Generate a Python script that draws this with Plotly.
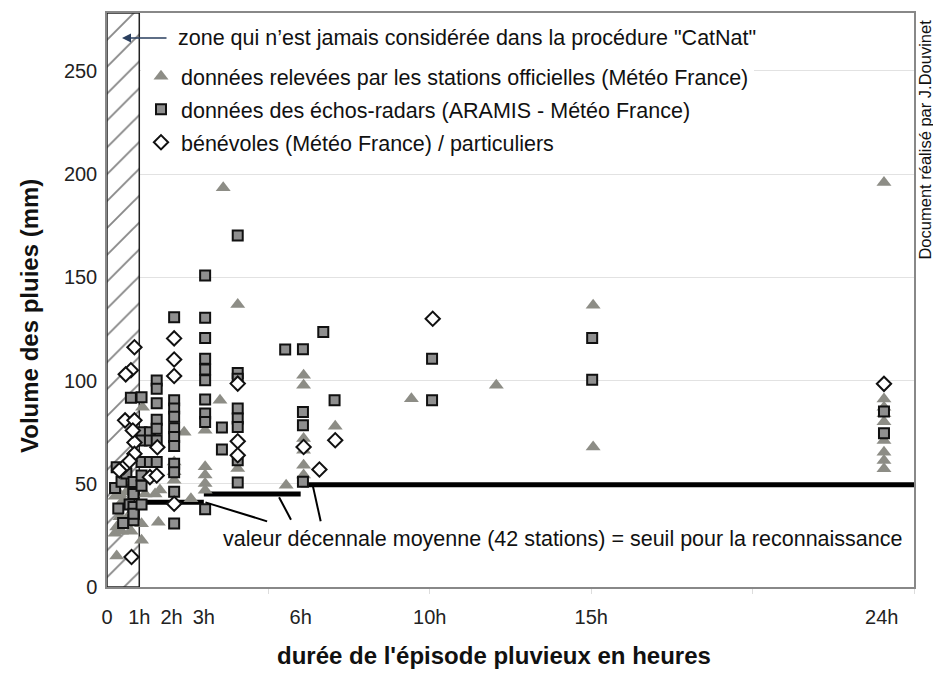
import plotly.graph_objects as go

# ---------------- data ----------------
# stations officielles (triangles)
tri_x = [0.3, 0.25, 0.45, 0.75, 0.3, 0.4, 0.65, 0.55, 0.5, 0.25, 0.6, 0.4, 0.8, 0.55,
         1.1, 1.07, 1.07, 1.18, 1.49, 1.64, 1.59,
         2.08, 2.08, 2.08, 2.39, 2.6,
         3.04, 3.04, 3.04, 3.04, 3.04, 3.5, 3.6,
         4.05, 4.05, 5.55,
         6.09, 6.09, 6.09, 6.09, 6.09, 6.09, 7.07,
         9.43, 12.06, 15.06, 15.06,
         24.07, 24.07, 24.07, 24.07, 24.07, 24.07, 24.07, 24.07, 24.07]
tri_y = [15, 26, 27, 27, 29, 34, 34, 39, 42, 44, 46, 45, 44, 50,
         87, 30.6, 22.6, 45, 45, 47, 31.4,
         60.6, 55.8, 51.7, 75, 42.8,
         75.9, 58.2, 54.2, 50.1, 46.9, 90.4, 193.4,
         136.8, 57.4, 49.3,
         102.5, 97.7, 71.9, 66.2, 59, 54.2, 77.9,
         91.2, 97.7, 136.4, 67.8,
         195.9, 91, 87, 83.9, 80, 71, 65.3, 61.3, 57.3]

# échos-radars (carrés)
sq_x = [0.25, 0.45, 0.6, 0.35, 0.7, 0.82, 0.82, 0.82, 0.82, 0.82, 0.82, 0.5, 0.74, 0.3,
        1.07, 1.07, 1.07, 1.07, 1.07, 1.07, 1.07,
        1.33, 1.33, 1.33,
        1.54, 1.54, 1.54, 1.54, 1.54, 1.54, 1.54,
        2.08, 2.08, 2.08, 2.08, 2.08, 2.08, 2.08, 2.08, 2.08, 2.08, 2.08,
        3.04, 3.04, 3.04, 3.04, 3.04, 3.04, 3.04, 3.04, 3.04, 3.04,
        3.56, 3.56,
        4.05, 4.05, 4.05, 4.05, 4.05, 4.05, 4.05, 4.05,
        5.52, 6.07, 6.07, 6.07, 6.07, 6.7, 7.05,
        10.07, 10.07, 15.03, 15.03, 24.07, 24.07]
sq_y = [48, 51, 55, 38, 40, 46.8, 38.7, 32.3, 35.5, 50.8, 45.1, 31, 91.6, 58,
        91.9, 75, 71, 60.5, 54, 49, 40,
        75, 71, 60.5,
        100, 96, 89, 81, 76.6, 71, 60.5,
        130.7, 90.4, 86.4, 82.4, 76.9, 72.7, 68.3, 59.7, 55.6, 46.1, 30.8,
        150.9, 130.4, 120.6, 110.6, 105.4, 100.1, 90.8, 84, 79.9, 37.7,
        77.2, 66.6,
        170.2, 103.6, 100.9, 86.4, 81.6, 77.5, 61.4, 50.6,
        115, 115.1, 84.8, 78.3, 51, 123.5, 90.4,
        110.6, 90.4, 120.6, 100.4, 85, 74.5]

# bénévoles / particuliers (losanges)
di_x = [0.85, 0.74, 0.58, 0.56, 0.85, 0.85, 0.85, 0.51, 0.38, 0.76, 0.8, 0.7,
        1.33, 1.54, 1.56,
        2.08, 2.08, 2.08, 2.08,
        4.05, 4.05, 4.05,
        6.09, 6.58, 7.07, 10.09, 24.07]
di_y = [116.1, 105, 103, 80.7, 80.7, 70, 64.5, 58, 56.5, 14.5, 75.8, 61,
        53.2, 54, 67.7,
        120.4, 110.2, 102.2, 40.3,
        98.5, 70.6, 63.8,
        67.8, 56.9, 71.1, 129.9, 98.4]

# seuil (valeur décennale moyenne)
seuil_debut = [1, 3, 6]
seuil_fin = [3, 6, 25]
seuil_val = [41, 45, 49.5]

tick_vals = [0, 1, 2, 3, 6, 10, 15, 24]
tick_text = ["0", "1h", "2h", "3h", "6h", "10h", "15h", "24h"]

FONT = "Liberation Sans, Arial, sans-serif"
YMAX = 278
XMAX = 25

# pixel geometry (body margin removed via post_script)
W, H = 933, 678
PL, PR, PT, PB = 107, 914, 11, 587          # plot box in pixels
L, R, T, B = PL, W - PR, PT, H - PB
pw, ph = PR - PL, PB - PT


def px(x):
    return (x - PL) / pw


def py(y):
    return (PB - y) / ph


fig = go.Figure()

# hatched zone (0 - 1h)
fig.add_trace(go.Scatter(
    x=[0, 1, 1, 0, 0], y=[0, 0, YMAX, YMAX, 0], mode="lines", fill="toself",
    fillcolor="white",
    fillpattern=dict(shape="/", size=19, solidity=0.1, fgcolor="#111", bgcolor="white"),
    line=dict(color="#222", width=1.5), showlegend=False, hoverinfo="skip"))

# threshold steps
sx, sy = [], []
for a, b, v in zip(seuil_debut, seuil_fin, seuil_val):
    sx += [a, b, None]
    sy += [v, v, None]
fig.add_trace(go.Scatter(x=sx, y=sy, mode="lines", line=dict(color="black", width=5),
                         showlegend=False, hoverinfo="skip"))

fig.add_trace(go.Scatter(
    x=tri_x, y=tri_y, mode="markers",
    name="données relevées par les stations officielles (Météo France)",
    marker=dict(symbol="triangle-up", size=13, color="#8d8d86", line=dict(width=0))))
fig.add_trace(go.Scatter(
    x=sq_x, y=sq_y, mode="markers",
    name="données des échos-radars (ARAMIS - Météo France)",
    marker=dict(symbol="square", size=10, color="#8f8f8f", line=dict(width=2, color="#111"))))
fig.add_trace(go.Scatter(
    x=di_x, y=di_y, mode="markers",
    name="bénévoles (Météo France) / particuliers",
    marker=dict(symbol="diamond", size=11, color="white", line=dict(width=2, color="#111"))))

# leader lines for threshold annotation
for (x0, y0, x1, y1) in [(3.05, 41, 4.96, 31.8), (5.33, 43.5, 5.7, 32.6), (6.36, 50.2, 6.62, 31.8)]:
    fig.add_shape(type="line", x0=x0, y0=y0, x1=x1, y1=y1, xref="x", yref="y",
                  line=dict(color="black", width=2))

# small square glyph after "particuliers"
fig.add_shape(type="rect", xref="paper", yref="paper",
              x0=px(565), x1=px(573), y0=py(136), y1=py(128),
              fillcolor="#8f8f8f", line=dict(color="#111", width=1.5))

annotations = [
    dict(x=px(176), y=py(36), xanchor="left", yanchor="middle",
         text="zone qui n’est jamais considérée dans la procédure \"CatNat\"",
         showarrow=False, font=dict(size=21.5, color="#111"), bgcolor="white"),
    dict(x=px(122), y=py(36), ax=46, ay=0,
         showarrow=True, arrowhead=2, arrowsize=1.2, arrowwidth=1.5, text=""),
    dict(x=px(562), y=py(539), xanchor="center", yanchor="middle",
         text="valeur décennale moyenne (42 stations) = seuil pour la reconnaissance",
         showarrow=False, font=dict(size=21.5, color="#111")),
    dict(x=px(30), y=py(315), text="<b>Volume des pluies (mm)</b>", textangle=-90, showarrow=False,
         xanchor="center", yanchor="middle", font=dict(size=24, color="#111")),
    dict(x=px(494), y=py(656), text="<b>durée de l'épisode pluvieux en heures</b>", showarrow=False,
         xanchor="center", yanchor="middle", font=dict(size=24, color="#111")),
    dict(x=px(925), y=py(138), text="Document réalisé par J.Douvinet", textangle=-90, showarrow=False,
         xanchor="center", yanchor="middle", font=dict(size=16.5, color="#111")),
]
for a in annotations:
    a.setdefault("xref", "paper")
    a.setdefault("yref", "paper")

fig.update_layout(
    width=W, height=H,
    margin=dict(l=L, r=R, t=T, b=B),
    paper_bgcolor="white", plot_bgcolor="white",
    font=dict(family=FONT, size=20, color="#222"),
    annotations=annotations,
    legend=dict(x=px(141), y=py(54), xanchor="left", yanchor="top",
                font=dict(size=21.5, color="#111"), bgcolor="white",
                tracegroupgap=2, itemwidth=30),
    xaxis=dict(range=[0, XMAX], tickvals=tick_vals, ticktext=tick_text, showgrid=False,
               zeroline=False, showline=True, linecolor="#888", linewidth=1.5, mirror=True,
               ticks="", ticklabelstandoff=11, tickfont=dict(size=20, color="#222"),
               minor=dict(tickvals=[5, 10, 15, 20, 25], ticks="outside", ticklen=5,
                          tickcolor="#ddd", showgrid=False)),
    yaxis=dict(range=[0, YMAX], tickvals=[0, 50, 100, 150, 200, 250], showgrid=True,
               gridcolor="#e2e2e2", gridwidth=1, zeroline=False, showline=True,
               linecolor="#888", linewidth=1.5, mirror=True, ticks="", ticklabelstandoff=4,
               tickfont=dict(size=20, color="#222")),
)

for i, tr in enumerate(fig.data):
    tr.legendgroup = f"g{i}"

fig.write_html("out.html",
               config={"displayModeBar": False},
               post_script="document.body.style.margin='0px';document.body.style.overflow='hidden';")
